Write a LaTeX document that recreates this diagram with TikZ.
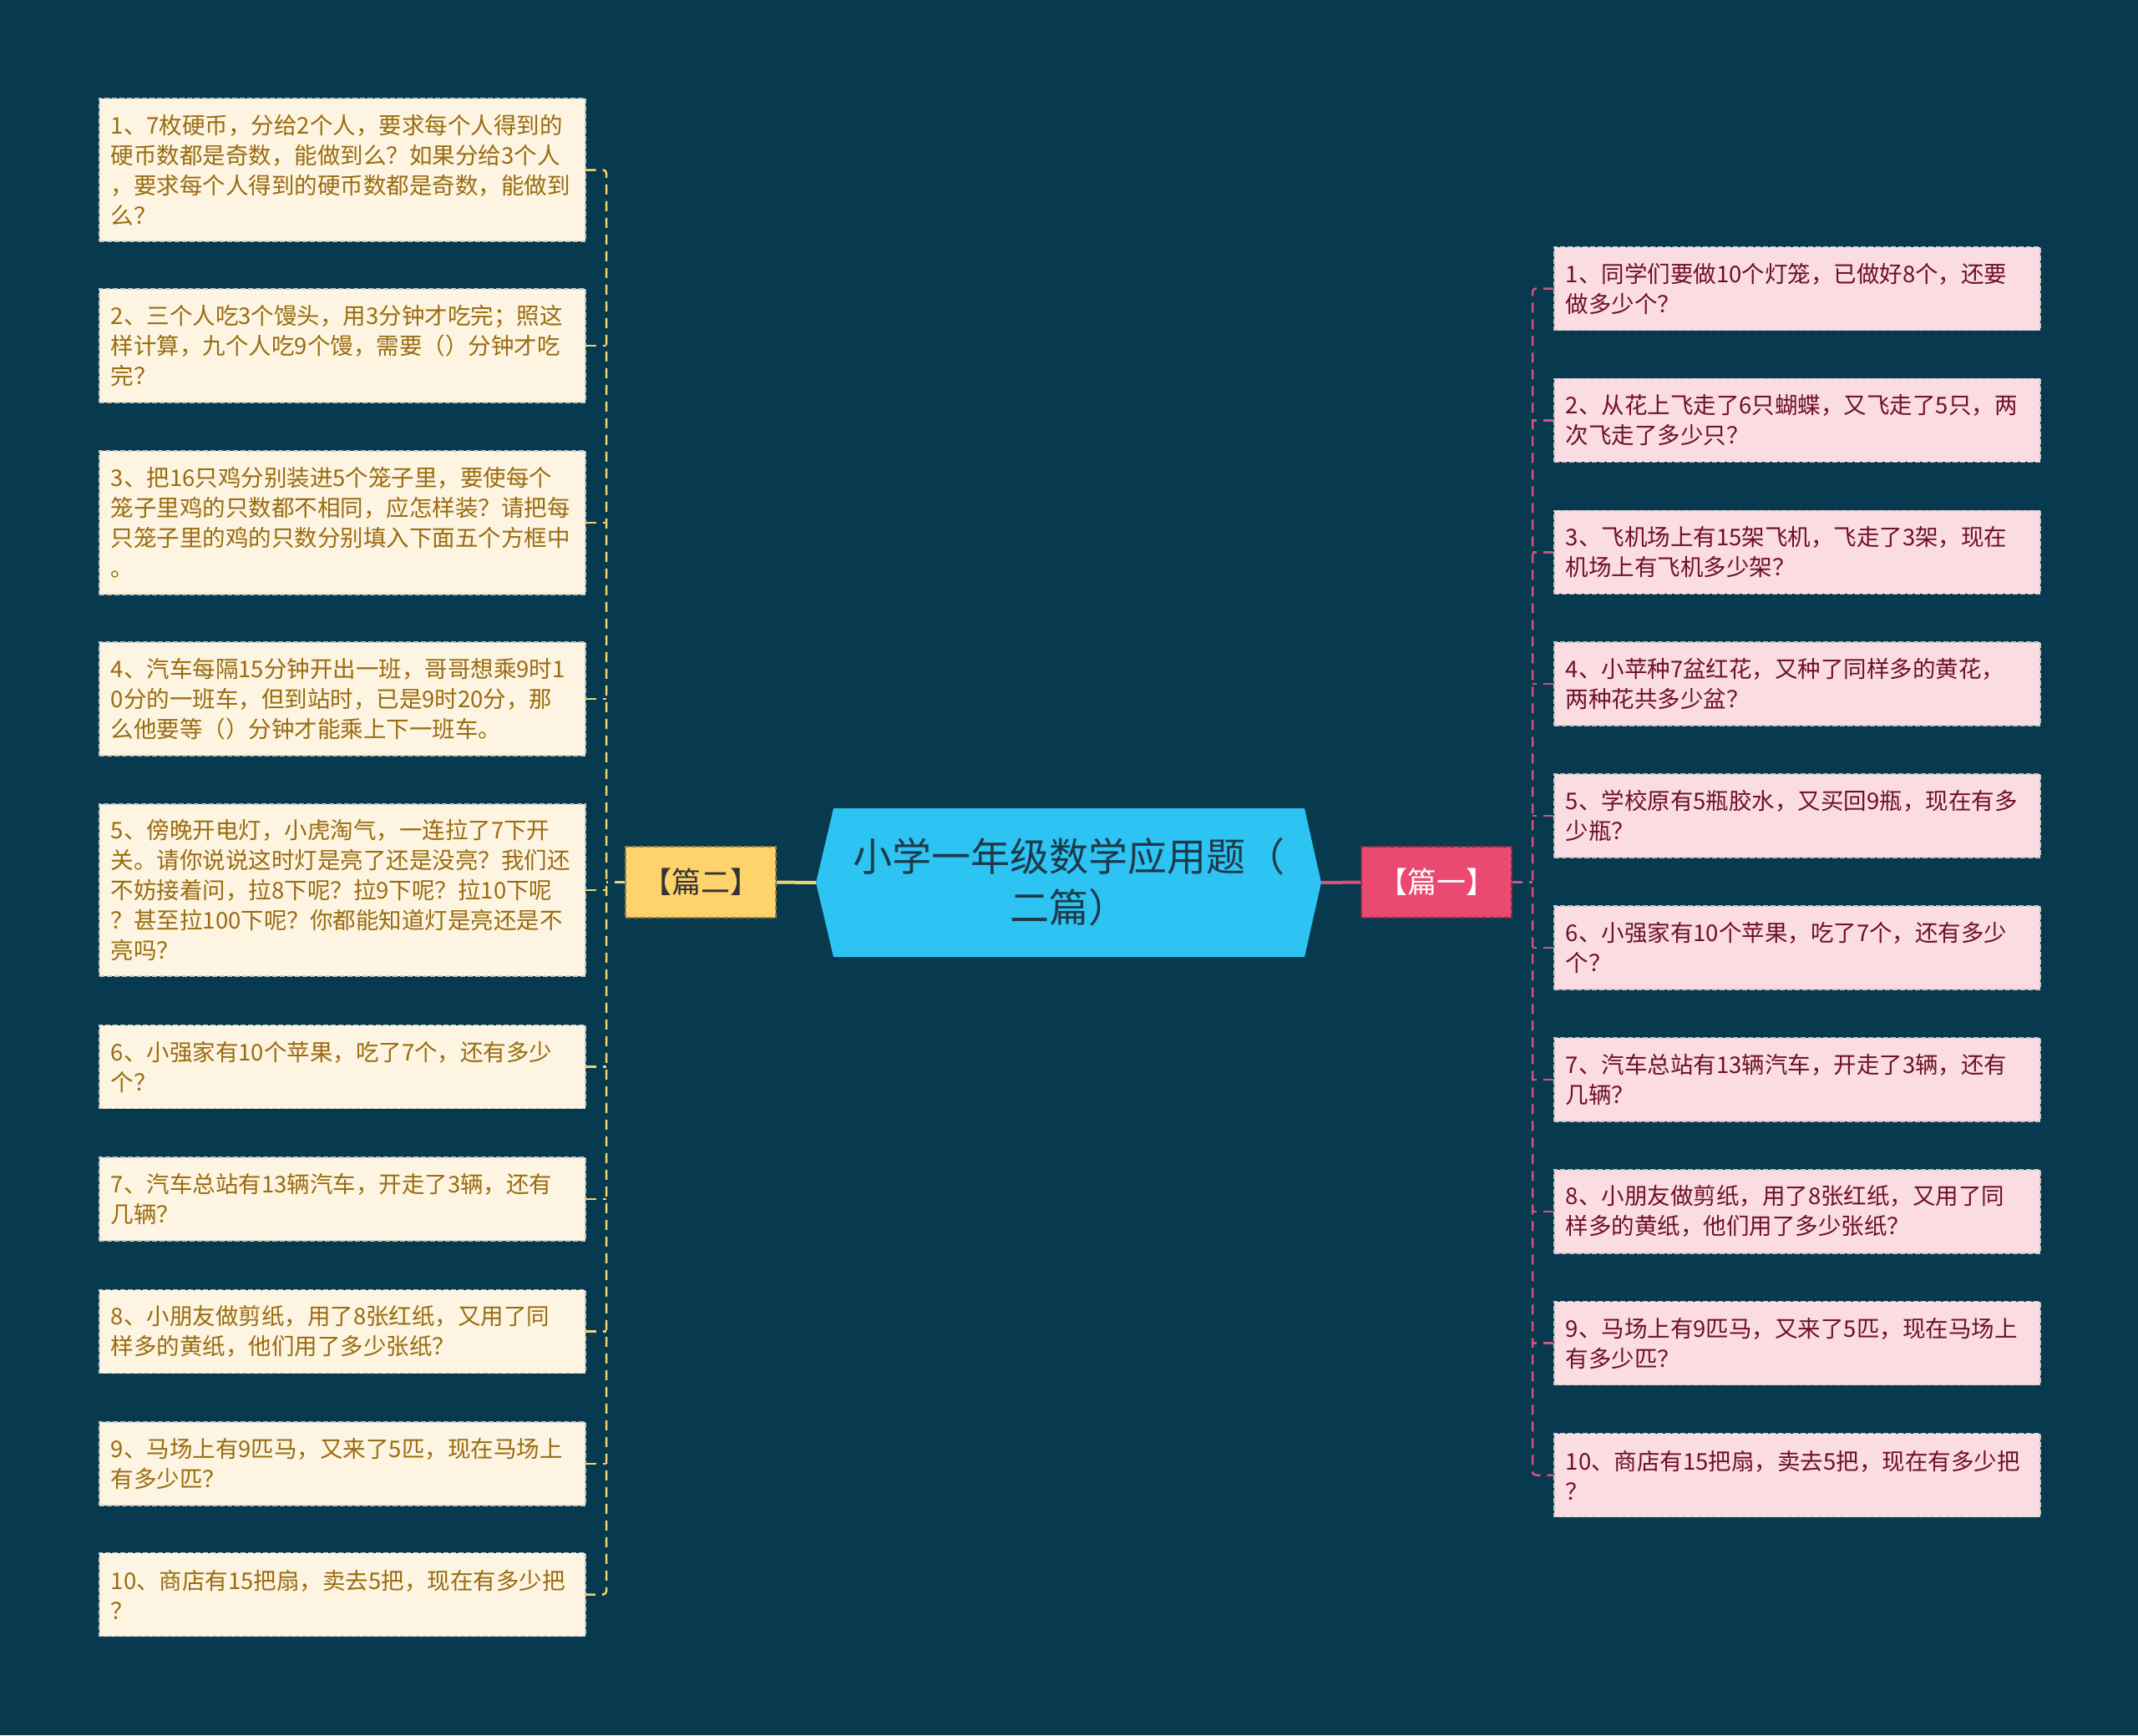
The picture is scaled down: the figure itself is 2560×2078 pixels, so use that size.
\documentclass[tikz,border=0pt]{standalone}
\usepackage{fontspec}
\newfontfamily\cjk{Noto Sans CJK SC}
\definecolor{bg}{HTML}{073A4E}
\definecolor{creamfill}{HTML}{FDF5E1}
\definecolor{creamtext}{HTML}{9A6B10}
\definecolor{pinkfill}{HTML}{FADCE2}
\definecolor{pinktext}{HTML}{6E1024}
\definecolor{yel}{HTML}{FFD36B}
\definecolor{yelline}{HTML}{F3D36F}
\definecolor{rose}{HTML}{EA4A72}
\definecolor{roseline}{HTML}{D9507A}
\definecolor{cyanfill}{HTML}{2DC3F2}
\definecolor{titletext}{HTML}{1D3A4A}
\definecolor{tagtext}{HTML}{333333}
\definecolor{boxedge}{HTML}{C8C8C8}
\tikzset{
  leaf/.style={draw=boxedge, dash pattern=on 6pt off 3pt, line width=1.5pt,
    inner xsep=14pt, inner ysep=0pt, text width=554pt, align=left,
    font=\cjk\fontsize{27.5}{36}\selectfont, anchor=west},
  lbox/.style={leaf, fill=creamfill, text=creamtext},
  rbox/.style={leaf, fill=pinkfill, text=pinktext},
  tag/.style={draw=#1!60!black, dash pattern=on 6pt off 3pt, line width=1.5pt,
    minimum width=180pt, minimum height=85pt, inner sep=0pt,
    font=\cjk\fontsize{35}{40}\selectfont},
  lconn/.style={draw=yelline, line width=2.5pt, dash pattern=on 12pt off 8pt},
  rconn/.style={draw=roseline, line width=2.5pt, dash pattern=on 12pt off 8pt},
}
\begin{document}
\begin{tikzpicture}[x=1pt,y=-1pt]
\fill[bg] (0,0) rectangle (2560,2078);
\useasboundingbox (0,0) rectangle (2560,2078);

% centre
\fill[cyanfill] (998,968) -- (1562,968) -- (1582,1057) -- (1562,1146) -- (998,1146) -- (977,1057) -- cycle;
\coordinate (hl) at (977,1057);
\coordinate (hr) at (1582,1057);
\node[text=titletext, align=center, font=\cjk\fontsize{47}{61}\selectfont] (title) at (1280,1056) {小学一年级数学应用题（\\二篇）};

% tags
\node[tag=yel, fill=yel, text=tagtext] (p2) at (839,1056.5) {【篇二】};
\node[tag=rose, fill=rose, text=white] (p1) at (1720,1056.5) {【篇一】};
\draw[yelline, line width=4pt] (hl) -- (p2.east);
\draw[roseline, line width=4pt] (hr) -- (p1.west);

% left boxes
\node[lbox, minimum height=171pt] (l1) at (118,203.5) {1、7枚硬币，分给2个人，要求每个人得到的\\硬币数都是奇数，能做到么？如果分给3个人\\，要求每个人得到的硬币数都是奇数，能做到\\么？};
\node[lbox, minimum height=136pt] (l2) at (118,414) {2、三个人吃3个馒头，用3分钟才吃完；照这\\样计算，九个人吃9个馒，需要（）分钟才吃\\完？};
\node[lbox, minimum height=172pt] (l3) at (118,626) {3、把16只鸡分别装进5个笼子里，要使每个\\笼子里鸡的只数都不相同，应怎样装？请把每\\只笼子里的鸡的只数分别填入下面五个方框中\\。};
\node[lbox, minimum height=136pt] (l4) at (118,837) {4、汽车每隔15分钟开出一班，哥哥想乘9时1\\0分的一班车，但到站时，已是9时20分，那\\么他要等（）分钟才能乘上下一班车。};
\node[lbox, minimum height=206pt] (l5) at (118,1066) {5、傍晚开电灯，小虎淘气，一连拉了7下开\\关。请你说说这时灯是亮了还是没亮？我们还\\不妨接着问，拉8下呢？拉9下呢？拉10下呢\\？甚至拉100下呢？你都能知道灯是亮还是不\\亮吗？};
\node[lbox, minimum height=100pt] (l6) at (118,1277.5) {6、小强家有10个苹果，吃了7个，还有多少\\个？};
\node[lbox, minimum height=100pt] (l7) at (118,1436) {7、汽车总站有13辆汽车，开走了3辆，还有\\几辆？};
\node[lbox, minimum height=100pt] (l8) at (118,1594.5) {8、小朋友做剪纸，用了8张红纸，又用了同\\样多的黄纸，他们用了多少张纸？};
\node[lbox, minimum height=100pt] (l9) at (118,1753) {9、马场上有9匹马，又来了5匹，现在马场上\\有多少匹？};
\node[lbox, minimum height=100pt] (l10) at (118,1909.5) {10、商店有15把扇，卖去5把，现在有多少把\\？};

% right boxes
\node[rbox, minimum height=100pt] (r1) at (1860,345.5) {1、同学们要做10个灯笼，已做好8个，还要\\做多少个？};
\node[rbox, minimum height=100pt] (r2) at (1860,503.4) {2、从花上飞走了6只蝴蝶，又飞走了5只，两\\次飞走了多少只？};
\node[rbox, minimum height=100pt] (r3) at (1860,661.3) {3、飞机场上有15架飞机，飞走了3架，现在\\机场上有飞机多少架？};
\node[rbox, minimum height=100pt] (r4) at (1860,819.2) {4、小苹种7盆红花，又种了同样多的黄花，\\两种花共多少盆？};
\node[rbox, minimum height=100pt] (r5) at (1860,977.1) {5、学校原有5瓶胶水，又买回9瓶，现在有多\\少瓶？};
\node[rbox, minimum height=100pt] (r6) at (1860,1135) {6、小强家有10个苹果，吃了7个，还有多少\\个？};
\node[rbox, minimum height=100pt] (r7) at (1860,1292.9) {7、汽车总站有13辆汽车，开走了3辆，还有\\几辆？};
\node[rbox, minimum height=100pt] (r8) at (1860,1450.8) {8、小朋友做剪纸，用了8张红纸，又用了同\\样多的黄纸，他们用了多少张纸？};
\node[rbox, minimum height=100pt] (r9) at (1860,1608.7) {9、马场上有9匹马，又来了5匹，现在马场上\\有多少匹？};
\node[rbox, minimum height=100pt] (r10) at (1860,1766.6) {10、商店有15把扇，卖去5把，现在有多少把\\？};

% left bus
\coordinate (lx) at (726,0);
\draw[lconn, rounded corners=4pt] (l1.east) -- (l1.east -| lx) -- (l10.east -| lx) -- (l10.east);
\foreach \n in {l2,l3,l4,l5,l6,l7,l8,l9} \draw[lconn] (\n.east) -- (\n.east -| lx);
\draw[lconn] (p2.west) -- (p2.west -| lx);

% right bus
\coordinate (rx) at (1835,0);
\draw[rconn, rounded corners=4pt] (r1.west) -- (r1.west -| rx) -- (r10.west -| rx) -- (r10.west);
\foreach \n in {r2,r3,r4,r5,r6,r7,r8,r9} \draw[rconn] (\n.west) -- (\n.west -| rx);
\draw[rconn] (p1.east) -- (p1.east -| rx);
\end{tikzpicture}
\end{document}
